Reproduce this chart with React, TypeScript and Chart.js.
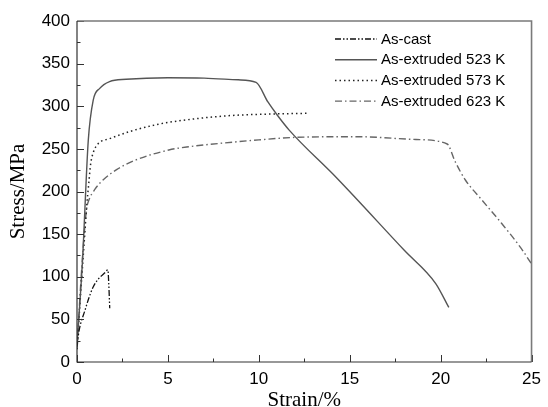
import React, { useEffect, useRef } from "react";
import { Chart, registerables } from "chart.js";

Chart.register(...registerables);

const xTicks = [0, 5, 10, 15, 20, 25];
const yTicks = [0, 50, 100, 150, 200, 250, 300, 350, 400];

const castStrain = [0, 0.1, 0.2, 0.43, 0.62, 0.89, 1.2, 1.5, 1.7, 1.74, 1.77, 1.8];
const castStress = [18, 35, 45, 60, 73, 88, 98, 104, 108, 95, 80, 63];

const e523Strain = [0, 0.3, 0.62, 0.89, 1.25, 1.79, 2.7, 5, 7, 8.86, 9.85, 10.5, 11.0, 11.67, 14.3, 18, 19.73, 20.45];
const e523Stress = [20, 118, 260, 307, 321, 329, 331.6, 333.5, 333, 331, 328, 305, 290, 272, 215.5, 131, 92, 64];

const e573Strain = [0, 0.2, 0.43, 0.53, 0.65, 0.75, 0.9, 1.16, 1.8, 3, 4.5, 6, 8.13, 10, 12.66];
const e573Stress = [15, 80, 151, 182, 210, 232, 246, 256, 262, 271, 279, 284, 288.6, 290.5, 291.7];

const e623Strain = [0, 0.2, 0.43, 0.53, 0.62, 1.0, 1.43, 2.2, 3.24, 5.05, 6.14, 8.13, 10, 12.1, 15.4, 18.64, 20.36, 20.8, 21.36, 22.27, 23.35, 24.44, 25];
const e623Stress = [15, 90, 159, 180, 188, 203, 213.5, 226, 237, 248.7, 252.5, 257, 260.5, 263.6, 264.3, 261, 255.7, 235, 213.5, 190, 162.7, 133, 115];

const seriesNames = ["As-cast", "As-extruded 523 K", "As-extruded 573 K", "As-extruded 623 K"];
const seriesColors = ["#111111", "#555555", "#222222", "#666666"];
const seriesDashes = [[6, 2, 1.5, 2, 1.5, 2], [], [1.5, 3], [7, 3, 1.5, 3]];
const seriesWidths = [1.3, 1.4, 1.5, 1.4];

const toPts = (xs: number[], ys: number[]) => xs.map((x, i) => ({ x, y: ys[i] }));

const deco = {
  id: "deco",
  afterDraw(chart: any) {
    const { ctx, chartArea: a, scales } = chart;
    const xs = scales.x;
    const ys = scales.y;
    ctx.save();
    // ticks (inward)
    ctx.strokeStyle = "#333";
    ctx.lineWidth = 1;
    for (let v = 0; v <= 25; v += 2.5) {
      const px = Math.round(xs.getPixelForValue(v)) + 0.5;
      const len = v % 5 === 0 ? 7 : 3.5;
      ctx.beginPath();
      ctx.moveTo(px, a.bottom);
      ctx.lineTo(px, a.bottom - len);
      ctx.stroke();
    }
    for (let v = 0; v <= 400; v += 25) {
      const py = Math.round(ys.getPixelForValue(v)) + 0.5;
      const len = v % 50 === 0 ? 7 : 3.5;
      ctx.beginPath();
      ctx.moveTo(a.left, py);
      ctx.lineTo(a.left + len, py);
      ctx.stroke();
    }
    // frame
    ctx.strokeStyle = "#7a7a7a";
    ctx.lineWidth = 1.6;
    ctx.beginPath();
    ctx.moveTo(a.left, a.top);
    ctx.lineTo(a.right, a.top);
    ctx.lineTo(a.right, a.bottom);
    ctx.stroke();
    ctx.strokeStyle = "#333";
    ctx.lineWidth = 1.2;
    ctx.beginPath();
    ctx.moveTo(a.left, a.top);
    ctx.lineTo(a.left, a.bottom);
    ctx.lineTo(a.right, a.bottom);
    ctx.stroke();
    // legend
    ctx.font = "15px 'Liberation Sans', Arial, sans-serif";
    ctx.textBaseline = "middle";
    ctx.textAlign = "left";
    const rows = [39, 59.7, 80.4, 101.1];
    seriesNames.forEach((name, i) => {
      ctx.strokeStyle = seriesColors[i];
      ctx.lineWidth = seriesWidths[i];
      ctx.setLineDash(seriesDashes[i]);
      ctx.beginPath();
      ctx.moveTo(335, rows[i]);
      ctx.lineTo(377, rows[i]);
      ctx.stroke();
      ctx.setLineDash([]);
      ctx.fillStyle = "#000";
      ctx.fillText(name, 381, rows[i] + 0.5);
    });
    // axis titles
    ctx.font = "21px 'Liberation Serif', 'Times New Roman', serif";
    ctx.fillStyle = "#000";
    ctx.textAlign = "center";
    ctx.textBaseline = "alphabetic";
    ctx.fillText("Strain/%", (a.left + a.right) / 2, 406);
    ctx.translate(24, (a.top + a.bottom) / 2);
    ctx.rotate(-Math.PI / 2);
    ctx.fillText("Stress/MPa", 0, 0);
    ctx.restore();
  },
};

export default function App() {
  const ref = useRef<HTMLCanvasElement>(null);
  useEffect(() => {
    document.body.style.margin = "0";
    const canvas = ref.current!;
    const datasets = [
      toPts(castStrain, castStress),
      toPts(e523Strain, e523Stress),
      toPts(e573Strain, e573Stress),
      toPts(e623Strain, e623Stress),
    ].map((data, i) => ({
      label: seriesNames[i],
      data,
      borderColor: seriesColors[i],
      borderWidth: seriesWidths[i],
      borderDash: seriesDashes[i],
      pointRadius: 0,
      fill: false,
      cubicInterpolationMode: "monotone" as const,
    }));
    const chart = new Chart(canvas, {
      type: "line",
      data: { datasets },
      options: {
        animation: false,
        responsive: false,
        maintainAspectRatio: false,
        layout: { padding: { left: 0, right: 11, top: 21, bottom: 0 } },
        plugins: { legend: { display: false }, tooltip: { enabled: false } },
        scales: {
          x: {
            type: "linear",
            min: 0,
            max: 25,
            afterFit: (s: any) => { s.height = 45; },
            afterBuildTicks: (s: any) => { s.ticks = xTicks.map((v) => ({ value: v })); },
            grid: { display: false, drawTicks: false },
            border: { display: false },
            ticks: { padding: 7, color: "#000", font: { family: "'Liberation Sans', Arial, sans-serif", size: 17 } },
          },
          y: {
            type: "linear",
            min: 0,
            max: 400,
            afterFit: (s: any) => { s.width = 77; },
            afterBuildTicks: (s: any) => { s.ticks = yTicks.map((v) => ({ value: v })); },
            grid: { display: false, drawTicks: false },
            border: { display: false },
            ticks: { padding: 7, color: "#000", font: { family: "'Liberation Sans', Arial, sans-serif", size: 17 } },
          },
        },
      },
      plugins: [deco],
    });
    return () => chart.destroy();
  }, []);
  return (
    <div style={{ width: 548, height: 407, background: "#fff" }}>
      <canvas ref={ref} width={548} height={407} style={{ display: "block" }} />
    </div>
  );
}
